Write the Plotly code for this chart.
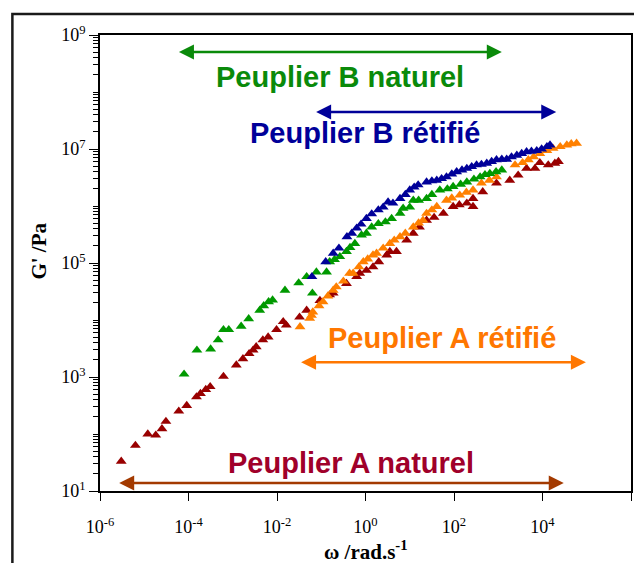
import numpy as np
import plotly.graph_objects as go

# log10(omega / rad.s-1) and log10(G' / Pa)
a_nat_log_w = [-5.52,-5.20,-4.92,-4.74,-4.60,-4.51,-4.22,-4.04,-3.82,-3.73,-3.61,-3.51,-3.21,-2.92,-2.77,
               -2.63,-2.54,-2.47,-2.32,-2.20,-2.01,-1.86,-1.79,-1.49,-1.33,-1.03,-0.81,-0.73,-0.43,-0.20,
               -0.13,0.02,0.17,0.30,0.48,0.55,0.70,0.93,1.08,1.22,1.38,1.55,1.76,1.98,2.12,2.29,2.43,2.43,
               2.65,2.96,3.26,3.45,3.64,3.83,3.94,4.13,4.28,4.36]
a_nat_log_g = [1.52,1.80,2.00,1.98,2.09,2.22,2.40,2.50,2.65,2.71,2.78,2.83,3.01,3.21,3.32,
               3.41,3.47,3.53,3.65,3.70,3.83,3.97,3.91,4.05,4.17,4.34,4.44,4.47,4.64,4.76,
               4.82,4.87,4.93,5.02,5.14,5.20,5.20,5.40,5.52,5.63,5.75,5.80,5.87,5.99,6.02,6.05,6.13,5.99,
               6.25,6.40,6.45,6.54,6.66,6.66,6.76,6.72,6.75,6.78]

a_ret_log_w = [-1.48,-1.26,-1.22,-1.19,-1.05,-0.96,-0.85,-0.73,-0.66,-0.50,-0.36,-0.28,-0.15,-0.05,0.05,
               0.17,0.25,0.40,0.55,0.65,0.78,0.90,1.08,1.20,1.30,1.38,1.50,1.61,1.83,1.95,2.13,2.28,2.43,
               2.62,2.80,2.96,3.38,3.55,3.68,3.80,3.94,4.10,4.24,4.40,4.55,4.65,4.77]
a_ret_log_g = [3.88,4.03,4.08,4.14,4.25,4.32,4.42,4.52,4.58,4.68,4.82,4.82,4.93,5.02,5.07,
               5.14,5.17,5.26,5.34,5.40,5.46,5.52,5.63,5.70,5.75,5.87,5.93,5.99,6.10,6.14,6.19,6.24,6.28,
               6.40,6.45,6.51,6.72,6.76,6.81,6.86,6.92,6.97,7.01,7.04,7.07,7.09,7.10]

b_nat_log_w = [-4.10,-3.81,-3.50,-3.33,-3.21,-3.09,-2.81,-2.64,-2.39,-2.30,-2.19,-2.10,-1.82,-1.51,-1.33,
               -1.20,-1.11,-0.88,-0.81,-0.70,-0.58,-0.43,-0.35,-0.24,-0.09,0.02,0.14,0.29,0.45,0.59,0.78,
               0.85,1.00,1.08,1.20,1.38,1.50,1.68,1.85,1.98,2.15,2.29,2.45,2.59,2.70,2.81,2.95,3.08]
b_nat_log_g = [3.05,3.47,3.49,3.65,3.83,3.83,3.89,4.02,4.17,4.25,4.32,4.35,4.52,4.65,4.76,
               4.47,4.84,4.84,5.02,5.06,5.11,5.20,5.27,5.34,5.49,5.52,5.63,5.69,5.72,5.78,5.87,
               5.96,5.98,6.10,6.10,6.13,6.20,6.28,6.30,6.34,6.38,6.42,6.47,6.51,6.55,6.57,6.60,6.63]

b_ret_log_w = [-1.21,-0.90,-0.73,-0.60,-0.42,-0.31,-0.20,-0.10,0.02,0.14,0.29,0.40,0.51,0.62,0.78,0.90,
               1.00,1.10,1.19,1.38,1.50,1.61,1.72,1.83,1.95,2.06,2.18,2.29,2.40,2.51,2.62,2.74,2.85,2.96,
               3.08,3.19,3.30,3.42,3.53,3.64,3.75,3.87,3.98,4.10,4.17]
b_ret_log_g = [4.76,5.02,5.17,5.26,5.46,5.52,5.61,5.68,5.78,5.86,5.93,5.98,6.07,6.05,6.13,6.20,
               6.28,6.33,6.37,6.42,6.44,6.45,6.48,6.51,6.56,6.60,6.63,6.66,6.69,6.72,6.73,6.75,6.78,6.81,
               6.82,6.82,6.86,6.89,6.92,6.95,6.96,6.97,7.00,7.04,7.07]

series_names = ["Peuplier A naturel", "Peuplier A rétifié", "Peuplier B naturel", "Peuplier B rétifié"]
marker_colors = ["#990000", "#ff8000", "#009900", "#000099"]

# tick exponents
x_tick_exp = [-6, -4, -2, 0, 2, 4, 6]
y_tick_exp = [1, 3, 5, 7, 9]

# range arrows: log w start/end, log G' of arrow; label position (log w, log G')
arrow_w_start = [-5.60, -1.49, -4.25, -1.15]
arrow_w_end = [4.48, 4.98, 3.08, 4.31]
arrow_log_g = [1.14, 3.26, 8.70, 7.65]
label_log_w = [-0.33, 1.73, -0.58, -0.02]
label_log_g = [1.49, 3.68, 8.26, 7.28]
label_colors = ["#a0002a", "#ff7700", "#0a8a0a", "#000099"]
arrow_colors = ["#a33a00", "#ff7700", "#0a8a0a", "#000099"]

data = [(a_nat_log_w, a_nat_log_g), (a_ret_log_w, a_ret_log_g),
        (b_nat_log_w, b_nat_log_g), (b_ret_log_w, b_ret_log_g)]

fig = go.Figure()
for (lw, lg), name, col in zip(data, series_names, marker_colors):
    fig.add_trace(go.Scatter(
        x=10 ** np.array(lw), y=10 ** np.array(lg), mode="markers", name=name,
        marker=dict(symbol="triangle-up", size=9.5, color=col, line=dict(width=0)),
        showlegend=False))

annotations = []
for i in range(4):
    annotations.append(dict(
        x=arrow_w_end[i], y=arrow_log_g[i], ax=arrow_w_start[i], ay=arrow_log_g[i],
        xref="x", yref="y", axref="x", ayref="y", text="", showarrow=True,
        arrowside="end+start", arrowhead=2, startarrowhead=2, arrowsize=1.2,
        startarrowsize=1.2, arrowwidth=2.5, arrowcolor=arrow_colors[i]))
    annotations.append(dict(
        x=label_log_w[i], y=label_log_g[i], xref="x", yref="y", text=series_names[i],
        showarrow=False, xanchor="center", yanchor="middle",
        font=dict(family="Liberation Sans", size=29, color=label_colors[i], weight="bold")))

annotations.append(dict(
    x=-0.114, y=0.526, xref="paper", yref="paper", text="<b>G' /Pa</b>", textangle=-90,
    showarrow=False, xanchor="center", yanchor="middle",
    font=dict(family="Liberation Serif", size=21, color="black")))
annotations.append(dict(
    x=0.50, y=-0.130, xref="paper", yref="paper", text="<b>ω /rad.s<sup>-1</sup></b>",
    showarrow=False, xanchor="center", yanchor="middle",
    font=dict(family="Liberation Serif", size=21, color="black")))

# page body adds an 8 px offset, so the figure is drawn 8 px smaller
fig.update_layout(
    width=634, height=555,
    margin=dict(l=92, r=11, t=27, b=72, autoexpand=False),
    paper_bgcolor="white", plot_bgcolor="white",
    annotations=annotations,
    shapes=[dict(type="rect", xref="paper", yref="paper",
                 x0=-0.165, x1=1.06, y0=-0.2, y1=1.046,
                 line=dict(color="#1a1a1a", width=2.5), fillcolor="rgba(0,0,0,0)")],
)
fig.update_xaxes(
    type="log", range=[-6, 6], automargin=False,
    tickmode="array", tickvals=[10.0 ** e for e in x_tick_exp],
    ticktext=["10<sup>%d</sup>" % e for e in x_tick_exp],
    showgrid=False, zeroline=False,
    showline=True, linecolor="black", linewidth=1.5, mirror=True,
    ticks="outside", ticklen=8, tickwidth=1.3, tickcolor="black", ticklabelstandoff=11,
    tickfont=dict(family="Liberation Serif", size=18, color="black"))
fig.update_yaxes(
    type="log", range=[1, 9], automargin=False,
    tickmode="array", tickvals=[10.0 ** e for e in y_tick_exp],
    ticktext=["10<sup>%d</sup>" % e for e in y_tick_exp],
    showgrid=False, zeroline=False,
    showline=True, linecolor="black", linewidth=1.5, mirror=True,
    ticks="outside", ticklen=9, tickwidth=1.3, tickcolor="black",
    minor=dict(ticks="outside", ticklen=5, tickwidth=1, tickcolor="black", dtick="D1", showgrid=False),
    tickfont=dict(family="Liberation Serif", size=18, color="black"))

fig.write_html("out.html")
